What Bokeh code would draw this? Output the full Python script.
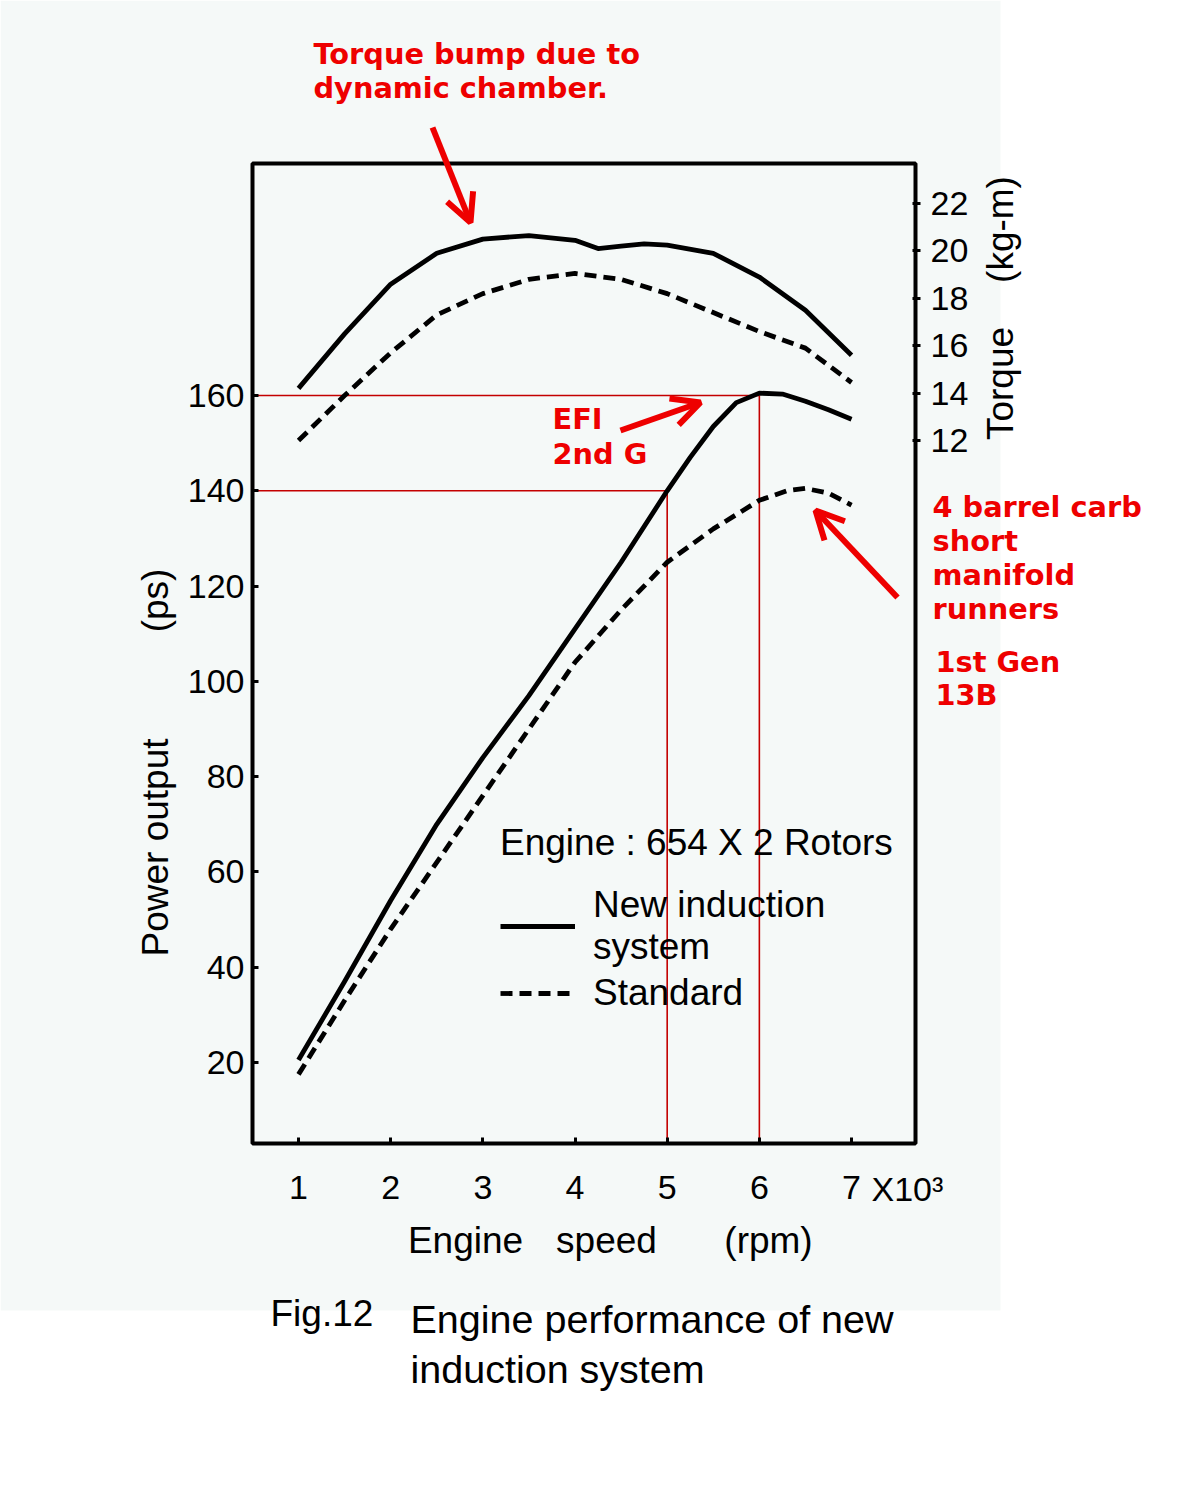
from math import pi
from bokeh.plotting import figure
from bokeh.models import (Range1d, LinearAxis, FixedTicker, Label, Arrow, OpenHead,
                          Legend, LegendItem, BoxAnnotation)
from bokeh.embed import file_html
from bokeh.resources import INLINE

# ---------------- data ----------------
rpm_power_new = [1.0, 1.5, 2.0, 2.5, 3.0, 3.5, 4.0, 4.5, 5.0, 5.25, 5.5, 5.75, 6.0, 6.25, 6.5, 6.75, 7.0]
power_new = [20.5, 37, 54, 70, 84, 97, 111, 125, 140, 147, 153.5, 158.5, 160.5, 160.3, 158.8, 157, 155]

rpm_power_std = [1.0, 1.5, 2.0, 2.5, 3.0, 3.5, 4.0, 4.5, 5.0, 5.5, 6.0, 6.3, 6.5, 6.75, 7.0]
power_std = [17.5, 33, 48, 62, 76, 90, 104, 115, 125, 132, 138, 140, 140.5, 139.5, 137]

rpm_torque_new = [1.0, 1.5, 2.0, 2.5, 3.0, 3.5, 4.0, 4.25, 4.5, 4.75, 5.0, 5.5, 6.0, 6.5, 7.0]
torque_new = [14.2, 16.5, 18.6, 19.9, 20.5, 20.65, 20.45, 20.1, 20.2, 20.3, 20.25, 19.9, 18.9, 17.5, 15.6]

rpm_torque_std = [1.0, 1.5, 2.0, 2.5, 3.0, 3.5, 4.0, 4.5, 5.0, 5.5, 6.0, 6.5, 7.0]
torque_std = [12.0, 13.9, 15.7, 17.3, 18.2, 18.8, 19.05, 18.8, 18.2, 17.4, 16.6, 15.9, 14.45]

# red guide lines: peak power of each induction system
guide_rpm = [6, 5]
guide_power = [160, 140]

rpm_ticks = [1, 2, 3, 4, 5, 6, 7]
power_ticks = [20, 40, 60, 80, 100, 120, 140, 160]
torque_ticks = [12, 14, 16, 18, 20, 22]

legend_title = "Engine : 654 X 2 Rotors"
series_names = ["New induction\nsystem", "Standard"]

# ---------------- layout constants ----------------
CANVAS_W, CANVAS_H = 1184, 1484
BOX_L, BOX_R, BOX_T, BOX_B = 252, 915, 163, 1143        # chart box, canvas px
X_BOX = (0.501, 7.694)                                   # rpm (x1000) at box edges
P_BOX = (2.99, 208.70)                                   # ps at box bottom / top
T_BOX = (-17.66, 23.69)                                  # kg-m at box bottom / top

RED = "#ee0000"
GUIDE_RED = "#c40000"
PANEL = "#f5f9f8"
FONT = "Liberation Sans"


def lin(v, a0, a1, b0, b1):
    return b0 + (v - a0) * (b1 - b0) / (a1 - a0)


def px2x(px):
    return lin(px, BOX_L, BOX_R, X_BOX[0], X_BOX[1])


def py2y(py):
    return lin(py, BOX_B, BOX_T, P_BOX[0], P_BOX[1])


def py2t(py):
    return lin(py, BOX_B, BOX_T, T_BOX[0], T_BOX[1])


p = figure(width=CANVAS_W, height=CANVAS_H, output_backend="svg", toolbar_location=None,
           x_range=Range1d(px2x(0), px2x(CANVAS_W)),
           y_range=Range1d(py2y(CANVAS_H), py2y(0)),
           min_border=0)
p.extra_y_ranges = {"torque": Range1d(py2t(CANVAS_H), py2t(0))}

p.background_fill_color = "white"
p.border_fill_color = "white"
p.outline_line_color = None
p.xgrid.visible = False
p.ygrid.visible = False

# light scanned-page panel behind the chart
p.add_layout(BoxAnnotation(left=px2x(0), right=px2x(1000), top=py2y(0), bottom=py2y(1310),
                           fill_color=PANEL, fill_alpha=1.0, line_alpha=0, level="underlay"))

# axes, pinned to the edges of the chart box
for ax in (p.xaxis[0], p.yaxis[0]):
    ax.axis_line_color = None
    ax.major_tick_in = 6
    ax.major_tick_out = 0
    ax.major_tick_line_width = 3
    ax.minor_tick_line_color = None
    ax.major_label_text_font = FONT
    ax.major_label_text_font_size = "34px"
    ax.major_label_text_color = "black"

p.xaxis.ticker = FixedTicker(ticks=rpm_ticks)
p.xaxis.fixed_location = P_BOX[0]
p.xaxis.major_label_standoff = 32
p.yaxis.ticker = FixedTicker(ticks=power_ticks)
p.yaxis.fixed_location = X_BOX[0]
p.yaxis.major_label_standoff = 8

tax = LinearAxis(y_range_name="torque", ticker=FixedTicker(ticks=torque_ticks),
                 fixed_location=X_BOX[1])
tax.axis_line_color = None
tax.major_tick_in = 3
tax.major_tick_out = 5
tax.major_tick_line_width = 3
tax.minor_tick_line_color = None
tax.major_label_text_font = FONT
tax.major_label_text_font_size = "34px"
tax.major_label_text_color = "black"
tax.major_label_standoff = 10
p.add_layout(tax, "right")

# chart box
p.add_layout(BoxAnnotation(left=X_BOX[0], right=X_BOX[1], bottom=P_BOX[0], top=P_BOX[1],
                           fill_alpha=0, line_color="black", line_alpha=1.0, line_width=4))

# red guide lines
p.segment(x0=[X_BOX[0]] * len(guide_rpm), y0=guide_power, x1=guide_rpm, y1=guide_power,
          line_color=GUIDE_RED, line_width=1.6)
p.segment(x0=guide_rpm, y0=guide_power, x1=guide_rpm, y1=[P_BOX[0]] * len(guide_rpm),
          line_color=GUIDE_RED, line_width=1.6)

# curves
DASH = "12 7"
r_tn = p.line(rpm_torque_new, torque_new, y_range_name="torque", line_color="black",
              line_width=4.8, line_join="round")
r_ts = p.line(rpm_torque_std, torque_std, y_range_name="torque", line_color="black",
              line_width=4.8, line_dash=DASH)
r_pn = p.line(rpm_power_new, power_new, line_color="black", line_width=4.8, line_join="round")
r_ps = p.line(rpm_power_std, power_std, line_color="black", line_width=4.8, line_dash=DASH)

legend = Legend(items=[LegendItem(label=series_names[0], renderers=[r_pn]),
                       LegendItem(label=series_names[1], renderers=[r_ps])],
                title=legend_title, location=(500, CANVAS_H - 1014))
legend.title_text_font = FONT
legend.title_text_font_size = "37px"
legend.title_text_font_style = "normal"
legend.title_text_color = "black"
legend.title_standoff = 20
legend.label_text_font = FONT
legend.label_text_font_size = "37px"
legend.label_text_color = "black"
legend.glyph_width = 75
legend.glyph_height = 30
legend.label_standoff = 18
legend.spacing = 4
legend.padding = 0
legend.margin = 0
legend.border_line_alpha = 0
legend.background_fill_alpha = 0
p.add_layout(legend)


def add_label(text, px, py, size="37px", font=FONT, color="black", align="left",
              angle=0.0, style="normal"):
    p.add_layout(Label(x=px2x(px), y=py2y(py), text=text, text_font=font,
                       text_font_size=size, text_color=color, text_align=align,
                       text_baseline="middle", angle=angle, text_font_style=style))


# axis titles
add_label("Power output", 155, 847, align="center", angle=pi / 2)
add_label("(ps)", 155, 600, align="center", angle=pi / 2)
add_label("Torque", 1000, 383, align="center", angle=pi / 2)
add_label("(kg-m)", 1000, 229, align="center", angle=pi / 2)
add_label("Engine", 465, 1240, align="center")
add_label("speed", 606, 1240, align="center")
add_label("(rpm)", 768, 1240, align="center")
add_label("X10³", 871, 1188, size="34px")

# caption
add_label("Fig.12", 270, 1313)
add_label("Engine performance of new", 410, 1318, size="39.5px")
add_label("induction system", 410, 1368, size="39.5px")

# red annotations
for text, px, py in [("Torque bump due to", 313, 53), ("dynamic chamber.", 313, 87),
                     ("EFI", 552, 418), ("2nd G", 552, 453),
                     ("4 barrel carb", 932, 506), ("short", 932, 540),
                     ("manifold", 932, 574), ("runners", 932, 608),
                     ("1st Gen", 935, 661), ("13B", 935, 694)]:
    add_label(text, px, py, size="28.8px", font="DejaVu Sans", color=RED, style="bold")

for (sx, sy), (ex, ey) in [((432, 127), (470, 222)), ((620, 430), (700, 402)),
                           ((897, 597), (815, 510))]:
    p.add_layout(Arrow(end=OpenHead(size=28, line_color=RED, line_width=6),
                       x_start=px2x(sx), y_start=py2y(sy), x_end=px2x(ex), y_end=py2y(ey),
                       line_color=RED, line_width=6))

open("out.html", "w").write(file_html(p, INLINE))
